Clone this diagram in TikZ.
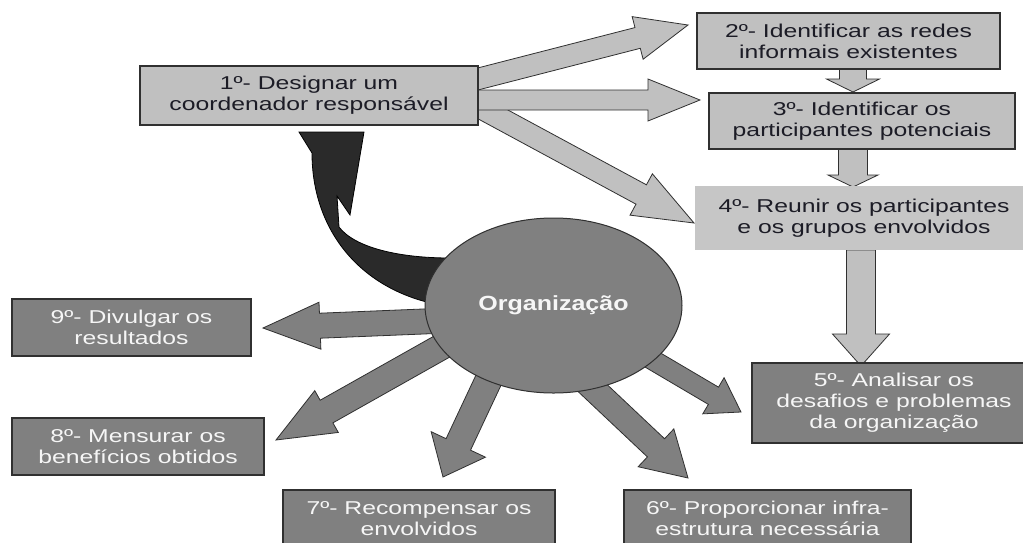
\documentclass[tikz,border=0pt]{standalone}
\usepackage{fontspec}
\setmainfont{Liberation Sans}[FakeStretch=1.33]
\newfontfamily\orgfont{Liberation Sans}[FakeStretch=1.22]
\usetikzlibrary{calc,shapes.geometric}
\definecolor{lightbox}{HTML}{C0C0C0}
\definecolor{lightbox4}{HTML}{C6C6C6}
\definecolor{darkbox}{HTML}{808080}
\definecolor{bordc}{HTML}{303030}
\definecolor{darktxt}{HTML}{1C1C26}
\definecolor{whitetxt}{HTML}{F6F6F6}
\definecolor{curvfill}{HTML}{2A2A2A}
\newcommand\fatarr[6]{%
  \path[#1] ($(#2)!#4!90:(#3)$)
   -- ($($(#3)!#6!(#2)$)!#4!90:(#3)$)
   -- ($($(#3)!#6!(#2)$)!#5!90:(#3)$)
   -- (#3)
   -- ($($(#3)!#6!(#2)$)!#5!-90:(#3)$)
   -- ($($(#3)!#6!(#2)$)!#4!-90:(#3)$)
   -- ($(#2)!#4!-90:(#3)$) -- cycle;}
\begin{document}
\begin{tikzpicture}[x=1pt,y=-1pt,
  txt/.style={font=\fontsize{18.6}{21}\selectfont, align=center, inner sep=0pt},
  lbox/.style={txt, rectangle, draw=bordc, line width=1.3pt, fill=lightbox, text=darktxt},
  nbox/.style={txt, rectangle, fill=lightbox4, text=darktxt},
  dbox/.style={txt, rectangle, draw=bordc, line width=1.3pt, fill=darkbox, text=whitetxt},
  larr/.style={draw=bordc, line width=0.8pt, fill=lightbox, line join=miter},
  darr/.style={draw=bordc, line width=0.8pt, fill=darkbox, line join=miter},
  curvarr/.style={draw=black, line width=0.8pt, fill=curvfill},
  orgnode/.style={ellipse, draw=bordc, line width=1pt, fill=darkbox, text=whitetxt,
    font=\orgfont\fontsize{20.5}{24}\selectfont\bfseries, inner sep=0pt}]
\useasboundingbox (0,0) rectangle (1023,542);
\clip (0,0) rectangle (1023,542);

% arrow end points
\coordinate (a12s) at (470,81);   \coordinate (a12e) at (688,25);
\coordinate (a13s) at (470,100);  \coordinate (a13e) at (700,100);
\coordinate (a14s) at (470,102);  \coordinate (a14e) at (694,223);
\coordinate (a23s) at (853,66);   \coordinate (a23e) at (853,92);
\coordinate (a34s) at (853,146);  \coordinate (a34e) at (853,187);
\coordinate (a45s) at (861,250);  \coordinate (a45e) at (861,366);
\coordinate (o9s) at (460,320);   \coordinate (o9e) at (263,328);
\coordinate (o8s) at (450,342);   \coordinate (o8e) at (276,440);
\coordinate (o7s) at (505,345);   \coordinate (o7e) at (443,477);
\coordinate (o6s) at (566,363);   \coordinate (o6e) at (688,478);
\coordinate (o5s) at (629,346);   \coordinate (o5e) at (741,412);

% light arrows from step 1
\fatarr{larr}{a14s}{a14e}{11pt}{23.5pt}{60pt}
\fatarr{larr}{a13s}{a13e}{10pt}{21pt}{52pt}
\fatarr{larr}{a12s}{a12e}{10.7pt}{22pt}{52pt}
\fatarr{larr}{a23s}{a23e}{13.5pt}{26.5pt}{13pt}
\fatarr{larr}{a34s}{a34e}{14.5pt}{25pt}{12pt}
\fatarr{larr}{a45s}{a45e}{14.5pt}{28.5pt}{32pt}

% dark arrows from the organisation
\fatarr{darr}{o9s}{o9e}{12.5pt}{23.5pt}{57pt}
\fatarr{darr}{o8s}{o8e}{13pt}{24pt}{58pt}
\fatarr{darr}{o7s}{o7e}{13.5pt}{30pt}{36pt}
\fatarr{darr}{o6s}{o6e}{12.5pt}{26pt}{44pt}
\fatarr{darr}{o5s}{o5e}{10pt}{21pt}{32pt}

% curved black arrow
\path[curvarr] (299,132) -- (364,132) -- (350,215) -- (337,196) -- (339,227)
  .. controls (355,248) and (400,258) .. (450,258) -- (440,305)
  .. controls (360,290) and (312,230) .. (312,153) -- cycle;

% boxes
\node[lbox, minimum width=338pt, minimum height=59pt] (b1) at (309,95.5)
  {1º- Designar um\\coordenador responsável};
\node[lbox, minimum width=303pt, minimum height=56pt] (b2) at (848.5,41)
  {2º- Identificar as redes\\informais existentes};
\node[lbox, minimum width=306pt, minimum height=56pt] (b3) at (862,121)
  {3º- Identificar os\\participantes potenciais};
\node[nbox, minimum width=338pt, minimum height=64pt] (b4) at (864,218)
  {4º- Reunir os participantes\\e os grupos envolvidos};
\node[dbox, minimum width=284pt, minimum height=80pt] (b5) at (894,403)
  {5º- Analisar os\\desafios e problemas\\da organização};
\node[dbox, minimum width=287pt, minimum height=57pt] (b6) at (767.5,518.5)
  {6º- Proporcionar infra-\\estrutura necessária};
\node[dbox, minimum width=272pt, minimum height=57pt] (b7) at (419,518.5)
  {7º- Recompensar os\\envolvidos};
\node[dbox, minimum width=252pt, minimum height=57pt] (b8) at (138,446.5)
  {8º- Mensurar os\\benefícios obtidos};
\node[dbox, minimum width=239pt, minimum height=57pt] (b9) at (131.5,327.5)
  {9º- Divulgar os\\resultados};

% organisation
\node[orgnode, minimum width=257pt, minimum height=175pt] (org) at (553.5,305.5) {Organização};
\end{tikzpicture}
\end{document}
